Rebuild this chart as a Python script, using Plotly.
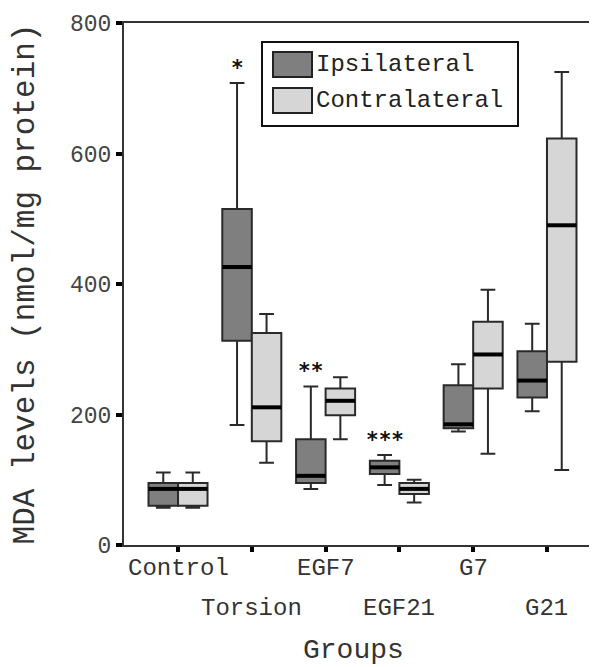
import plotly.graph_objects as go

groups = ["Control", "Torsion", "EGF7", "EGF21", "G7", "G21"]
y_ticks = [0, 200, 400, 600, 800]

# Ipsilateral box statistics
ipsi_low = [57, 184, 86, 92, 174, 205]
ipsi_q1 = [60, 313, 95, 109, 179, 226]
ipsi_med = [86, 426, 106, 119, 185, 252]
ipsi_q3 = [95, 515, 162, 129, 245, 297]
ipsi_high = [111, 708, 243, 138, 277, 339]

# Contralateral box statistics
contra_low = [57, 126, 162, 65, 140, 115]
contra_q1 = [60, 159, 199, 78, 240, 281]
contra_med = [86, 211, 221, 86, 292, 490]
contra_q3 = [95, 325, 240, 95, 342, 623]
contra_high = [111, 354, 257, 100, 391, 725]

# significance marks (on ipsilateral boxes), one per group
sig_marks = ["", "*", "**", "***", "", ""]

series_names = ["Ipsilateral", "Contralateral"]
fills = ["#7f7f7f", "#d6d6d6"]

FONT = "Liberation Mono"
OFF = 0.2
BW = 0.4

idx = list(range(len(groups)))
fig = go.Figure()

stats = [
    (ipsi_low, ipsi_q1, ipsi_med, ipsi_q3, ipsi_high),
    (contra_low, contra_q1, contra_med, contra_q3, contra_high),
]
offsets = [-OFF, OFF]

for (lo, q1, med, q3, hi), off, name, fill in zip(stats, offsets, series_names, fills):
    xs = [i + off for i in idx]
    fig.add_trace(go.Box(
        name=name, x=xs, q1=q1, median=med, q3=q3,
        lowerfence=lo, upperfence=hi,
        width=BW, whiskerwidth=0.5,
        fillcolor=fill, line=dict(color="#2a2a2a", width=2),
        boxpoints=False, showlegend=False, hoverinfo="skip",
    ))
    # thicker median lines
    mx, my = [], []
    for x, m in zip(xs, med):
        mx += [x - BW / 2, x + BW / 2, None]
        my += [m, m, None]
    fig.add_trace(go.Scatter(x=mx, y=my, mode="lines",
                             line=dict(color="#000000", width=4),
                             showlegend=False, hoverinfo="skip"))

annotations = []
# significance annotations
for mark, i in zip(sig_marks, idx):
    if mark:
        annotations.append(dict(x=i - OFF, y=ipsi_high[i], xref="x", yref="y",
                                text="<b>" + mark + "</b>", showarrow=False,
                                yanchor="bottom", yshift=1,
                                font=dict(family="DejaVu Sans Mono", size=21,
                                          color="#111")))
# x tick labels in two staggered rows
for i, g in enumerate(groups):
    annotations.append(dict(x=i, y=0, xref="x", yref="y", text=g,
                            showarrow=False, yanchor="middle",
                            yshift=-23 if i % 2 == 0 else -63,
                            font=dict(family=FONT, size=24, color="#333")))
# x axis title
annotations.append(dict(x=0.486, y=0, xref="paper", yref="y", text="Groups",
                        showarrow=False, yanchor="middle", yshift=-105,
                        font=dict(family=FONT, size=28, color="#333")))

# page body has an 8px margin; size the figure to fit in the window
W, H = 589, 659
L, T, B, R = 116, 15, 122, 0
pw, ph = W - L - R, H - T - B
OX, OY = 8, 8  # page offset


def px(xp):
    return (xp - OX - L) / pw


def py(yp):
    return (H - B - (yp - OY)) / ph


shapes = []
shapes.append(dict(type="rect", xref="paper", yref="paper",
                   x0=px(262), x1=px(518), y0=py(126), y1=py(42),
                   line=dict(color="#111", width=2), fillcolor="white"))
for k, (name, fill) in enumerate(zip(series_names, fills)):
    top = 52 + 36 * k
    shapes.append(dict(type="rect", xref="paper", yref="paper",
                       x0=px(273), x1=px(312), y0=py(top + 25), y1=py(top),
                       line=dict(color="#222", width=2), fillcolor=fill))
    annotations.append(dict(x=px(314), y=py(top + 12.5), xref="paper", yref="paper",
                            text=name, showarrow=False, xanchor="left",
                            yanchor="middle",
                            font=dict(family=FONT, size=24, color="#222")))

fig.update_layout(
    width=W, height=H,
    margin=dict(l=L, r=R, t=T, b=B),
    paper_bgcolor="white", plot_bgcolor="white",
    showlegend=False,
    font=dict(family=FONT, size=24, color="#333"),
    xaxis=dict(range=[-0.732, 5.678], tickvals=idx, showticklabels=False,
               ticks="outside", ticklen=5, tickwidth=4, tickcolor="#000",
               showline=True, linecolor="#333", linewidth=2, mirror=True,
               showgrid=False, zeroline=False, automargin=False),
    yaxis=dict(range=[0, 800], tickvals=y_ticks,
               ticks="outside", ticklen=6, tickwidth=4, tickcolor="#000",
               showline=True, linecolor="#333", linewidth=2,
               showgrid=False, zeroline=False, automargin=False,
               tickfont=dict(family=FONT, size=23, color="#444"),
               title=dict(text="MDA levels (nmol/mg protein)", standoff=28,
                          font=dict(family=FONT, size=31, color="#333"))),
    shapes=shapes,
    annotations=annotations,
)

fig.write_html("out.html")
